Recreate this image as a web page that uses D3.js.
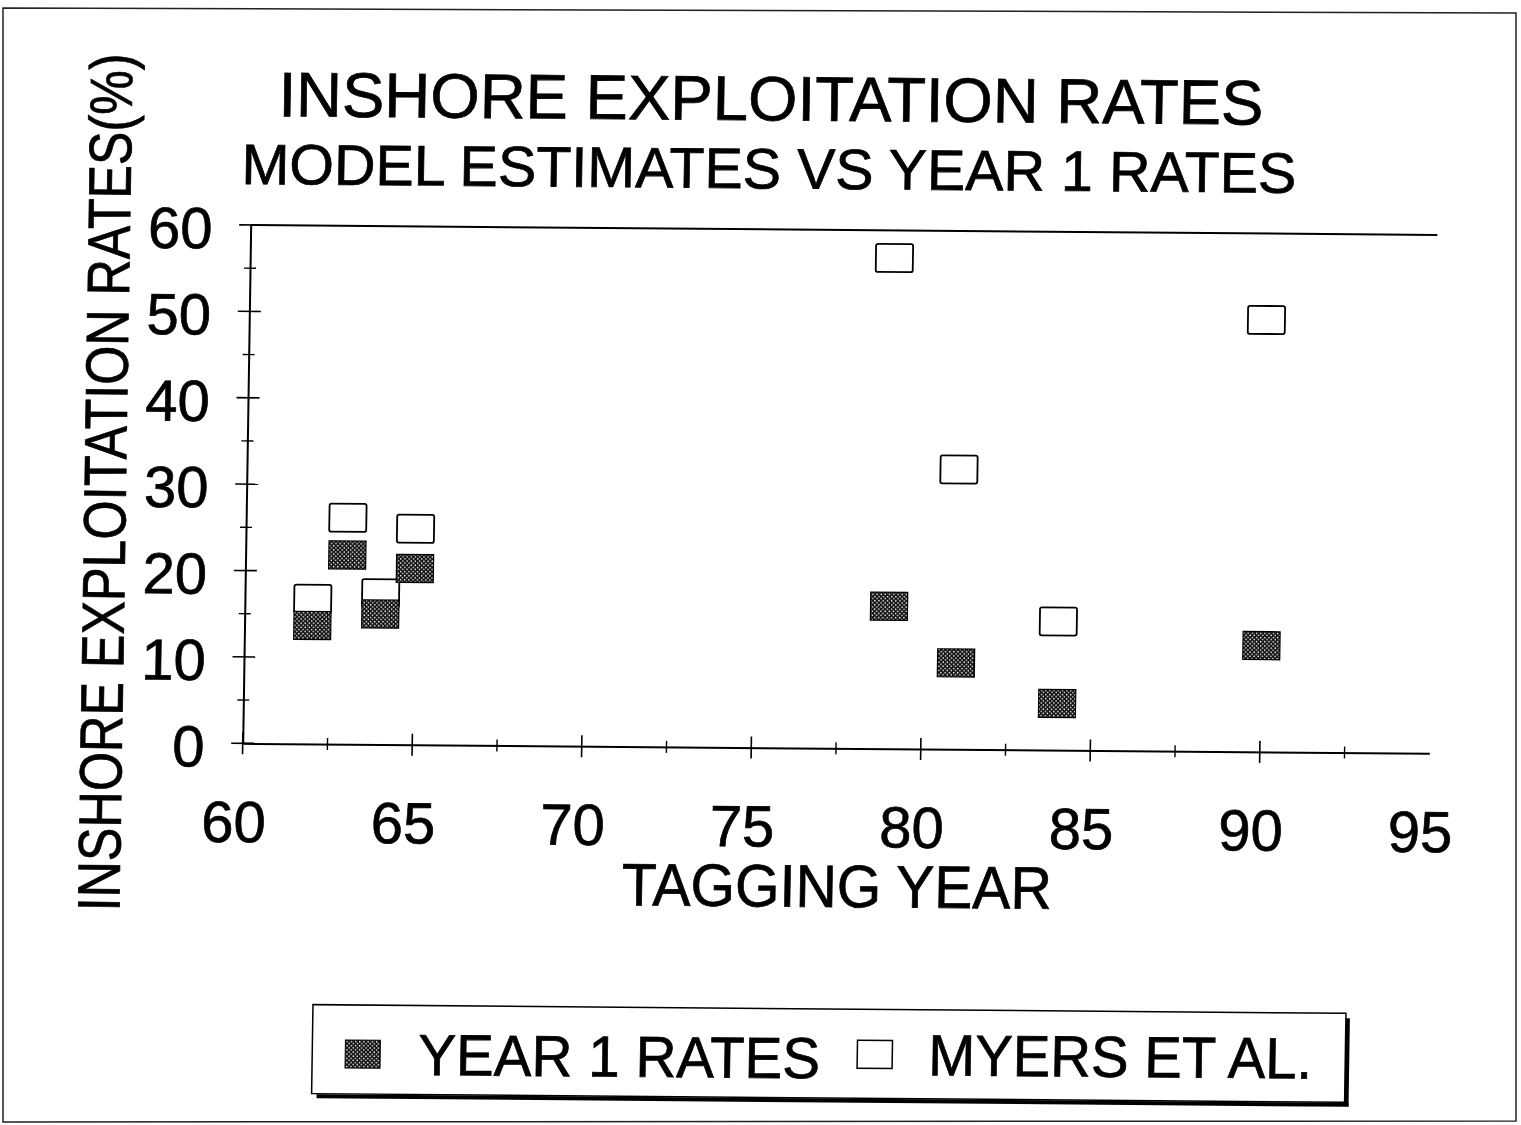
<!DOCTYPE html>
<html>
<head>
<meta charset="utf-8">
<script src="https://cdn.jsdelivr.net/npm/d3@7"></script>
<style>
  html, body { margin: 0; padding: 0; background: #fff; }
  svg { display: block; }
</style>
</head>
<body>
<svg id="chart" width="1521" height="1125"></svg>
<script>
// Tagging years and the two series of inshore exploitation rates (%)
const years = [62, 63, 64, 65, 79, 81, 84, 90];
const year1Rates = [13.7, 21.9, 15.1, 20.4, 16.5, 10.0, 5.4, 12.3];
const myersRates = [16.8, 26.2, 17.5, 25.0, 56.8, 32.4, 14.9, 50.0];

// Axis ticks
const xMajorTicks = [60, 65, 70, 75, 80, 85, 90];
const xMinorTicks = [62.5, 67.5, 72.5, 77.5, 82.5, 87.5, 92.5];
const xTickLabels = [60, 65, 70, 75, 80, 85, 90, 95];
const yMajorTicks = [0, 10, 20, 30, 40, 50, 60];
const yMinorTicks = [5, 15, 25, 35, 45, 55];

const seriesNames = ["YEAR 1 RATES", "MYERS ET AL."];
const titleText = "INSHORE EXPLOITATION RATES";
const subtitleText = "MODEL ESTIMATES VS YEAR 1 RATES";
const xTitle = "TAGGING YEAR";
const yTitle = "INSHORE EXPLOITATION RATES(%)";

const FONT = '"Liberation Sans", Arial, Helvetica, sans-serif';
const INK = 0.7; // slight outline to give the print its heavier strokes
const svg = d3.select("#chart");

// Halftone fill for the dark markers: black with a staggered grid of white dots
const defs = svg.append("defs");
const pat = defs.append("pattern")
  .attr("id", "halftone")
  .attr("patternUnits", "userSpaceOnUse")
  .attr("width", 4.2).attr("height", 4.2);
pat.append("rect").attr("width", 4.2).attr("height", 4.2).attr("fill", "#111");
pat.append("circle").attr("cx", 1.05).attr("cy", 1.05).attr("r", 0.75).attr("fill", "#fff");
pat.append("circle").attr("cx", 3.15).attr("cy", 3.15).attr("r", 0.75).attr("fill", "#fff");

// Outer page frame
svg.append("path")
  .attr("d", "M3,8 L1516,13 L1516,1121 L3,1122 Z")
  .attr("fill", "none").attr("stroke", "#222").attr("stroke-width", 1.5);

// Plot geometry
const ox = 242.7, oy = 743.3;
const x = d3.scaleLinear().domain([60, 95]).range([ox, 1429.3]);
const y = d3.scaleLinear().domain([0, 60]).range([oy, 225]);

// The whole sheet sits slightly skewed on the page
const g = svg.append("g")
  .attr("transform", `translate(${ox},${oy}) matrix(1,0.00843,-0.01543,1,0,0) translate(${-ox},${-oy})`);

function label(parent, txt, px, py, size, anchor, len) {
  const t = parent.append("text")
    .attr("x", px).attr("y", py)
    .attr("font-family", FONT).attr("font-size", size)
    .attr("text-anchor", anchor || "start")
    .attr("fill", "#000").attr("stroke", "#000").attr("stroke-width", INK)
    .text(txt);
  if (len) t.attr("textLength", len).attr("lengthAdjust", "spacingAndGlyphs");
  return t;
}

// Titles
label(g, titleText, 761, 116, 63, "middle", 985);
label(g, subtitleText, 760, 184, 57, "middle", 1055);

// Top frame line of the plot
g.append("line")
  .attr("x1", x(60)).attr("x2", x(95))
  .attr("y1", y(60)).attr("y2", y(60))
  .attr("stroke", "#000").attr("stroke-width", 2);

// X axis
const xAxis = g.append("g")
  .attr("transform", `translate(0,${oy})`)
  .call(d3.axisBottom(x).tickValues(xTickLabels).tickSize(0).tickSizeOuter(0).tickFormat(d3.format("d")));
xAxis.select(".domain").attr("stroke", "#000").attr("stroke-width", 2);
xAxis.selectAll(".tick line").remove();
xAxis.selectAll(".tick text")
  .attr("font-family", FONT).attr("font-size", 58).attr("fill", "#000")
  .attr("stroke", "#000").attr("stroke-width", INK)
  .attr("x", -8.5).attr("y", 98.7).attr("dy", 0);

// Y axis
const yAxis = g.append("g")
  .attr("transform", `translate(${ox},0)`)
  .call(d3.axisLeft(y).tickValues(yMajorTicks).tickSize(0).tickSizeOuter(0).tickFormat(d3.format("d")));
yAxis.select(".domain").attr("stroke", "#000").attr("stroke-width", 2);
yAxis.selectAll(".tick line").remove();
yAxis.selectAll(".tick text")
  .attr("font-family", FONT).attr("font-size", 58).attr("fill", "#000")
  .attr("stroke", "#000").attr("stroke-width", INK)
  .attr("x", -38.2).attr("y", 23).attr("dy", 0).attr("text-anchor", "end");

// Crossing tick marks
g.selectAll(".xmaj").data(xMajorTicks).join("line")
  .attr("x1", d => x(d)).attr("x2", d => x(d))
  .attr("y1", oy - 11).attr("y2", oy + 11)
  .attr("stroke", "#000").attr("stroke-width", 1.6);
g.selectAll(".xmin").data(xMinorTicks).join("line")
  .attr("x1", d => x(d)).attr("x2", d => x(d))
  .attr("y1", oy - 6).attr("y2", oy + 6)
  .attr("stroke", "#000").attr("stroke-width", 1.4);
g.selectAll(".ymaj").data(yMajorTicks).join("line")
  .attr("x1", ox - 11.5).attr("x2", ox + 11.5)
  .attr("y1", d => y(d)).attr("y2", d => y(d))
  .attr("stroke", "#000").attr("stroke-width", 1.6);
g.selectAll(".ymin").data(yMinorTicks).join("line")
  .attr("x1", ox - 6).attr("x2", ox + 6)
  .attr("y1", d => y(d)).attr("y2", d => y(d))
  .attr("stroke", "#000").attr("stroke-width", 1.4);

// Axis titles
label(g, xTitle, 839, 902, 60, "middle", 430);
label(g, yTitle, 0, 0, 60, "middle", 858)
  .attr("x", null).attr("y", null)
  .attr("transform", "translate(122,483.5) rotate(-90)");

// Markers: open squares first, dark squares on top
const MW = 37, MH = 28;
g.selectAll(".myers").data(years.map((yr, i) => [yr, myersRates[i]])).join("rect")
  .attr("x", d => x(d[0]) - MW / 2).attr("y", d => y(d[1]) - MH / 2)
  .attr("width", MW).attr("height", MH).attr("rx", 2)
  .attr("fill", "#fff").attr("stroke", "#000").attr("stroke-width", 1.8);
g.selectAll(".year1").data(years.map((yr, i) => [yr, year1Rates[i]])).join("rect")
  .attr("x", d => x(d[0]) - MW / 2).attr("y", d => y(d[1]) - MH / 2)
  .attr("width", MW).attr("height", MH)
  .attr("fill", "url(#halftone)").attr("stroke", "#000").attr("stroke-width", 1.2);

// Legend box with drop shadow
const lg = g.append("g");
lg.append("line").attr("x1", 1352).attr("x2", 1352).attr("y1", 1009).attr("y2", 1097)
  .attr("stroke", "#000").attr("stroke-width", 4);
lg.append("line").attr("x1", 322).attr("x2", 1354).attr("y1", 1095.5).attr("y2", 1095.5)
  .attr("stroke", "#000").attr("stroke-width", 4);
lg.append("rect").attr("x", 317).attr("y", 1004).attr("width", 1033).attr("height", 89)
  .attr("fill", "#fff").attr("stroke", "#000").attr("stroke-width", 1.5);
lg.append("rect").attr("x", 350).attr("y", 1039).attr("width", 35).attr("height", 28)
  .attr("fill", "url(#halftone)").attr("stroke", "#000").attr("stroke-width", 1);
lg.append("rect").attr("x", 862).attr("y", 1035).attr("width", 35).attr("height", 28)
  .attr("fill", "#fff").attr("stroke", "#000").attr("stroke-width", 1.5);
label(lg, seriesNames[0], 423, 1073.5, 58, "start", 402);
label(lg, seriesNames[1], 933, 1069.5, 58, "start", 384);
</script>
</body>
</html>
